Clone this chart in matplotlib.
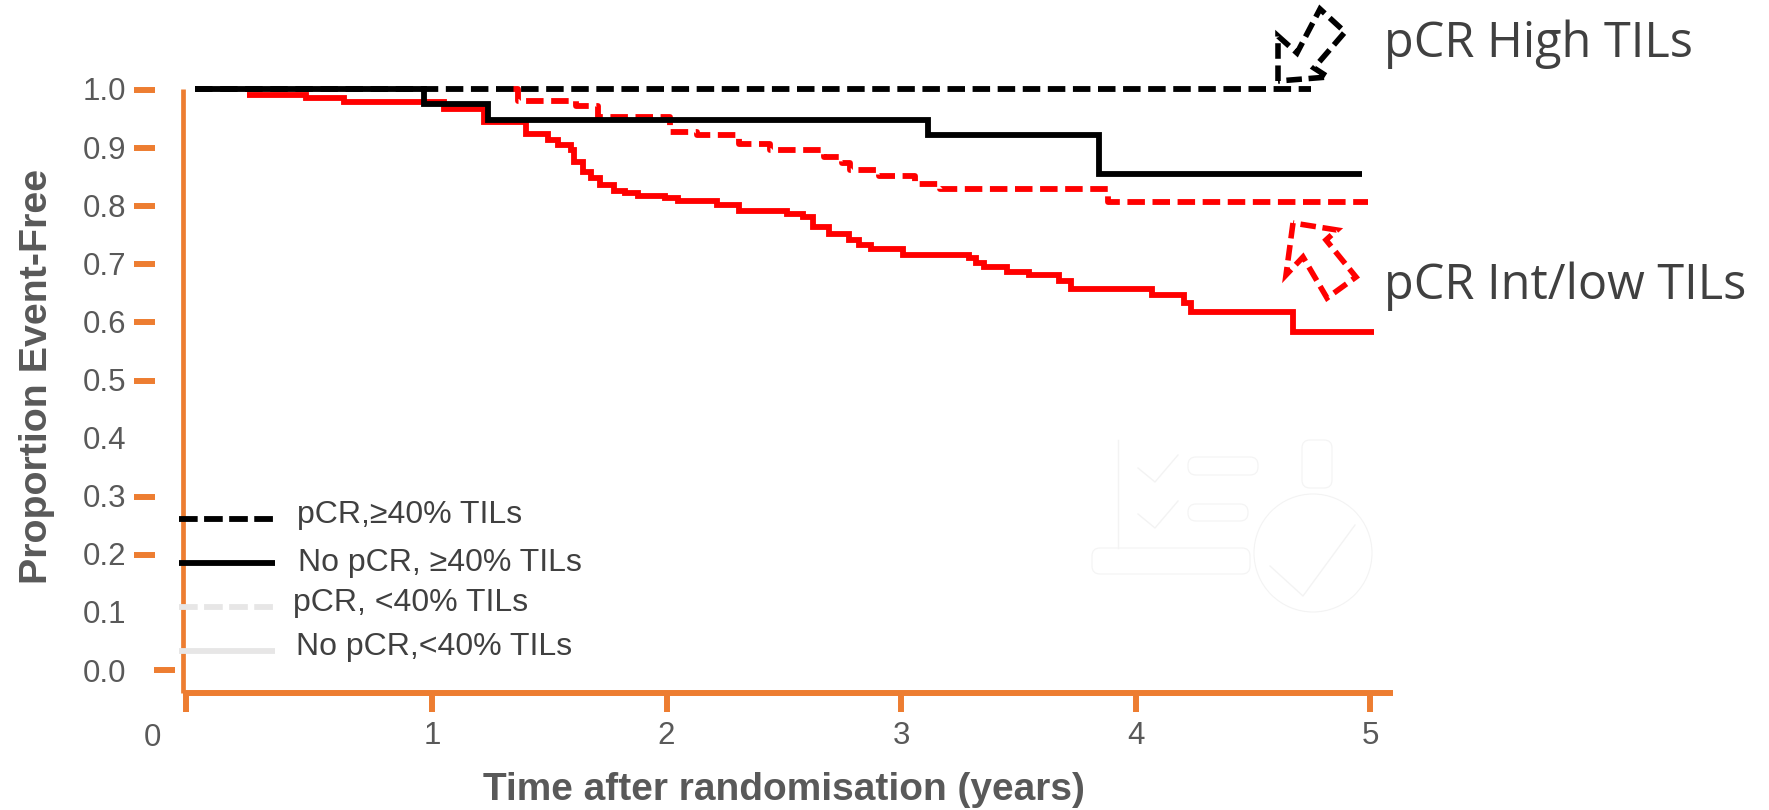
import matplotlib
matplotlib.use("Agg")
import matplotlib.pyplot as plt
from matplotlib.patches import Polygon, Circle, FancyBboxPatch

plt.rcParams['font.family'] = ['Liberation Sans', 'DejaVu Sans']

W, H = 1769, 810
ORANGE = '#ED7D31'
GREY = '#595959'
TEXT = '#404040'

# 曲线数据
black_dash_t = [-0.01, 4.75]
black_dash_v = [1.0, 1.0]

black_solid_t = [-0.01, 0.966, 1.237, 3.114, 3.846, 4.968]
black_solid_v = [1.0, 0.975, 0.947, 0.920, 0.854, 0.854]

red_solid_t = [0.21, 0.463, 0.624, 1.052, 1.22, 1.40, 1.496, 1.537, 1.594, 1.604, 1.643, 1.68,
               1.718, 1.776, 1.823, 1.88, 1.994, 2.05, 2.216, 2.311, 2.515, 2.58, 2.623, 2.695,
               2.777, 2.82, 2.87, 3.009, 3.29, 3.32, 3.355, 3.451, 3.544, 3.675, 3.727, 4.07,
               4.207, 4.236, 4.672, 5.015]
red_solid_v = [0.990, 0.985, 0.978, 0.965, 0.944, 0.923, 0.912, 0.904, 0.895, 0.874, 0.857, 0.847,
               0.835, 0.825, 0.821, 0.816, 0.812, 0.807, 0.800, 0.790, 0.785, 0.780, 0.763, 0.751,
               0.740, 0.731, 0.725, 0.715, 0.709, 0.700, 0.693, 0.685, 0.680, 0.670, 0.655, 0.646,
               0.632, 0.616, 0.582, 0.582]

red_dash_t = [1.345, 1.367, 1.614, 1.71, 2.015, 2.13, 2.311, 2.44, 2.672, 2.749, 2.783, 2.905,
              3.061, 3.166, 3.881, 4.99]
red_dash_v = [1.0, 0.980, 0.971, 0.952, 0.926, 0.921, 0.906, 0.8955, 0.8835, 0.872, 0.860, 0.851,
              0.837, 0.8285, 0.806, 0.806]

# 刻度
y_labels = ['1.0', '0.9', '0.8', '0.7', '0.6', '0.5', '0.4', '0.3', '0.2', '0.1', '0.0']
y_label_vals = [1.0, 0.9, 0.8, 0.7, 0.6, 0.5, 0.4, 0.3, 0.2, 0.1, 0.0]
y_mark_vals = [1.0, 0.9, 0.8, 0.7, 0.6, 0.5, 0.3, 0.2]
x_tick_vals = [-0.05, 1, 2, 3, 4, 5]
x_tick_labels = ['', '1', '2', '3', '4', '5']

legend_names = ['pCR,≥40% TILs', 'No pCR, ≥40% TILs', 'pCR, <40% TILs', 'No pCR,<40% TILs']
legend_colors = ['black', 'black', '#E7E6E6', '#E7E6E6']
legend_dashed = [True, False, True, False]
legend_line_y = [519, 563, 607, 651]
legend_text_x = [297, 298, 293, 296]
legend_text_y = [515, 563, 603, 647]


def fx(px):
    return px / W


def fy(py):
    return 1 - py / H


# 画布
board = plt.figure(figsize=(W / 100, H / 100), dpi=100, facecolor='white')
axis = board.add_axes([fx(183), fy(693), fx(1393 - 183), (693 - 89) / H])
axis.set_xlim((183 - 197.5) / 234.5, (1393 - 197.5) / 234.5)
axis.set_ylim((670 - 693) / 581, 1.0)
axis.patch.set_alpha(0)

for side in ['top', 'right']:
    axis.spines[side].set_visible(False)
axis.spines['left'].set_color(ORANGE)
axis.spines['left'].set_linewidth(3.4)
axis.spines['left'].set_capstyle('butt')
axis.spines['bottom'].set_color(ORANGE)
axis.spines['bottom'].set_linewidth(4.3)
axis.spines['bottom'].set_capstyle('butt')

# x轴刻度
axis.set_xticks(x_tick_vals)
axis.set_xticklabels(x_tick_labels, fontsize=22.5, color=GREY)
axis.tick_params(axis='x', length=14, width=4.3, color=ORANGE, pad=6)
board.text(fx(152), fy(738), '0', fontsize=22.5, color=GREY, ha='center', va='center')

# y轴刻度
axis.set_yticks(y_label_vals)
axis.set_yticklabels(y_labels, fontsize=22.5, color=GREY)
axis.tick_params(axis='y', length=0, pad=41)
for v in y_mark_vals:
    y_px = 670 - 581 * v
    board.add_artist(plt.Line2D([fx(134), fx(155)], [fy(y_px + 1), fy(y_px + 1)], color=ORANGE, lw=4.3,
                                solid_capstyle='butt'))
board.add_artist(plt.Line2D([fx(154), fx(175)], [fy(670), fy(670)], color=ORANGE, lw=4.3, solid_capstyle='butt'))

# 生存曲线
long_dash = (0, (3.0, 1.3))
axis.step(red_solid_t, red_solid_v, where='post', color='red', lw=4.2, clip_on=False,
          solid_joinstyle='miter', solid_capstyle='butt')
axis.step(red_dash_t, red_dash_v, where='post', color='red', lw=4.2, linestyle=long_dash, clip_on=False,
          dash_capstyle='butt')
axis.step(black_dash_t, black_dash_v, where='post', color='black', lw=4.2, linestyle=long_dash, clip_on=False,
          dash_capstyle='butt')
axis.step(black_solid_t, black_solid_v, where='post', color='black', lw=4.2, clip_on=False,
          solid_joinstyle='miter', solid_capstyle='butt')

board.text(fx(784), fy(790), 'Time after randomisation (years)', fontsize=28, fontweight='bold',
           color=GREY, ha='center', va='center')
board.text(fx(37), fy(376), 'Proportion Event-Free', fontsize=28.4, fontweight='bold', color=GREY,
           rotation=90, ha='center', va='center')

# 图例
for i in range(len(legend_names)):
    style = (0, (3.2, 1.1)) if legend_dashed[i] else '-'
    board.add_artist(plt.Line2D([fx(179), fx(274.5)], [fy(legend_line_y[i])] * 2, color=legend_colors[i],
                                lw=4.2, linestyle=style, dash_capstyle='butt', solid_capstyle='butt', zorder=5))
    board.text(fx(legend_text_x[i]), fy(legend_text_y[i]), legend_names[i], fontsize=23, color=TEXT,
               ha='left', va='center')

# 右侧标注
board.text(fx(1384), fy(57), 'pCR High TILs', family='Open Sans', fontsize=35, color=TEXT,
           ha='left', va='baseline')
board.text(fx(1384), fy(299), 'pCR Int/low TILs', family='Open Sans', fontsize=35, color=TEXT,
           ha='left', va='baseline')

black_arrow = [(1278, 81), (1278, 36), (1297, 53), (1320, 9), (1345, 32), (1314, 68), (1328, 77)]
red_arrow = [(1293, 223), (1286, 275), (1303, 257), (1327, 298), (1356, 277), (1326, 240), (1337, 230)]
for pts, col in [(black_arrow, 'black'), (red_arrow, 'red')]:
    board.add_artist(Polygon([(fx(a), fy(b)) for a, b in pts], closed=True, fill=False, edgecolor=col,
                             lw=4, linestyle=(0, (2.8, 1.2)), transform=board.transFigure))

# 背景里几乎看不见的图标
icon = '#F3F3F3'
board.add_artist(Circle((1313, H - 553), 59, fill=False, edgecolor=icon, lw=0.8, transform=None))
for a, b, w, h in [(1188, 457, 70, 18), (1188, 504, 60, 17), (1092, 548, 158, 26), (1302, 440, 30, 48)]:
    board.add_artist(FancyBboxPatch((a, H - b - h), w, h, boxstyle='round,pad=0,rounding_size=8', fill=False,
                                    edgecolor=icon, lw=0.8, transform=None))
for xs, ys in [([1138, 1155, 1178], [468, 482, 455]), ([1138, 1155, 1178], [514, 528, 501]),
               ([1270, 1303, 1355], [566, 596, 525])]:
    board.add_artist(plt.Line2D(xs, [H - q for q in ys], color=icon, lw=1, transform=None))
board.add_artist(plt.Line2D([1118, 1118], [H - 440, H - 548], color=icon, lw=1, transform=None))

board.savefig('out.png', dpi=100)
